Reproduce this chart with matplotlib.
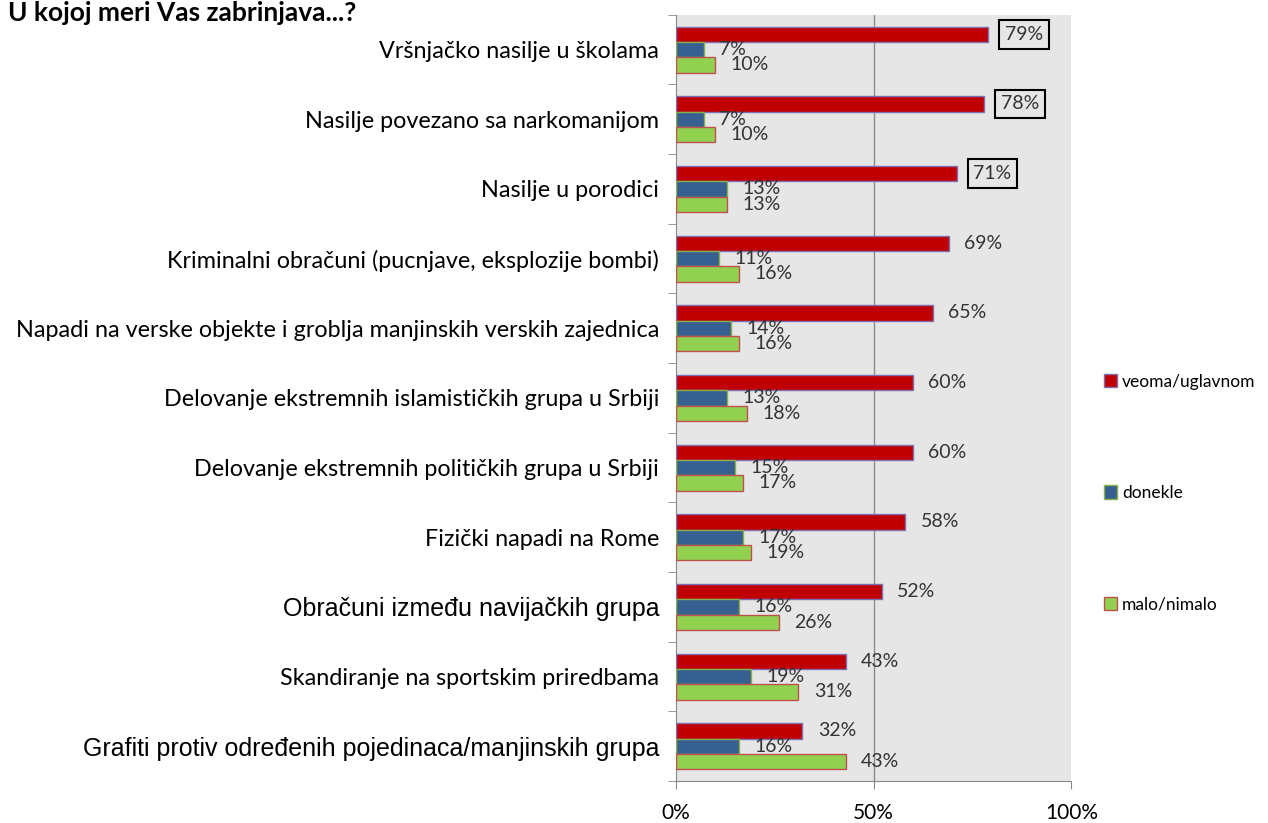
import matplotlib
matplotlib.use("Agg")
import matplotlib.pyplot as plt
import numpy as np
from matplotlib.patches import Patch

categories = [
    "Vršnjačko nasilje u školama",
    "Nasilje povezano sa narkomanijom",
    "Nasilje u porodici",
    "Kriminalni obračuni (pucnjave, eksplozije bombi)",
    "Napadi na verske objekte i groblja manjinskih verskih zajednica",
    "Delovanje ekstremnih islamističkih grupa u Srbiji",
    "Delovanje ekstremnih političkih grupa u Srbiji",
    "Fizički napadi na Rome",
    "Obračuni između navijačkih grupa",
    "Skandiranje na sportskim priredbama",
    "Grafiti protiv određenih pojedinaca/manjinskih grupa",
]
arial_labels = ["Obračuni između navijačkih grupa",
                "Grafiti protiv određenih pojedinaca/manjinskih grupa"]
veoma = [79, 78, 71, 69, 65, 60, 60, 58, 52, 43, 32]
donekle = [7, 7, 13, 11, 14, 13, 15, 17, 16, 19, 16]
malo = [10, 10, 13, 16, 16, 18, 17, 19, 26, 31, 43]
boxed = [0, 1, 2]
series_names = ["veoma/uglavnom", "donekle", "malo/nimalo"]

colors = ["#C00000", "#376092", "#92D050"]
edges = ["#7F6FB0", "#8AB04A", "#C0504D"]

plt.rcParams['font.family'] = ['Lato', 'DejaVu Sans']

fig = plt.figure(figsize=(12.68, 8.23), dpi=100)
ax = fig.add_axes([0.533, 0.051, 0.312, 0.931])
ax.set_facecolor("#E6E6E6")

n = len(categories)
y = np.arange(n)
h = 0.22
series = [veoma, donekle, malo]
offsets = [-h, 0, h]
for vals, off, c, ec in zip(series, offsets, colors, edges):
    ax.barh(y + off, vals, height=h, color=c, edgecolor=ec, linewidth=1, zorder=3)

for i in range(n):
    for vals, off in zip(series, offsets):
        txt = f"{vals[i]}%"
        if vals is veoma and i in boxed:
            ax.annotate(txt, (vals[i], y[i] + off), xytext=(12, 0),
                        textcoords="offset points", va="center", ha="left",
                        fontsize=14, color="#333333", zorder=5,
                        bbox=dict(boxstyle="square,pad=0.3", fc="none",
                                  ec="black", lw=1.5))
        else:
            ax.annotate(txt, (vals[i], y[i] + off), xytext=(11, 0),
                        textcoords="offset points", va="center", ha="left",
                        fontsize=14, color="#333333", zorder=5)

ax.set_xlim(0, 100)
ax.set_ylim(n - 0.5, -0.5)
ax.axvline(50, color="#8C8C8C", lw=1, zorder=1)

ax.set_xticks([0, 50, 100])
ax.set_xticklabels(["0%", "50%", "100%"], fontsize=15)
ax.tick_params(axis="x", length=6, color="#888888", pad=10)

ax.set_yticks(y)
ax.set_yticklabels(categories, fontsize=16.8)
ax.tick_params(axis="y", length=0, pad=12)
ax.set_yticks(np.arange(n + 1) - 0.5, minor=True)
ax.tick_params(axis="y", which="minor", length=6, color="#888888")
for lab in ax.get_yticklabels():
    if lab.get_text() in arial_labels:
        lab.set_family("Liberation Sans")
        lab.set_fontsize(18)

for s in ["top", "right"]:
    ax.spines[s].set_visible(False)
for s in ["left", "bottom"]:
    ax.spines[s].set_color("#888888")

handles = [Patch(facecolor=c, edgecolor=ec, label=lbl)
           for c, ec, lbl in zip(colors, edges, series_names)]
fig.legend(handles=handles, loc="upper left", bbox_to_anchor=(0.858, 0.565),
           frameon=False, fontsize=12.5, handlelength=0.8, handleheight=0.8,
           handletextpad=0.25, labelspacing=5.5)

fig.text(0.006, 0.999, "U kojoj meri Vas zabrinjava...?", fontsize=19,
         fontweight="bold", ha="left", va="top")

fig.savefig("out.png", dpi=100)
